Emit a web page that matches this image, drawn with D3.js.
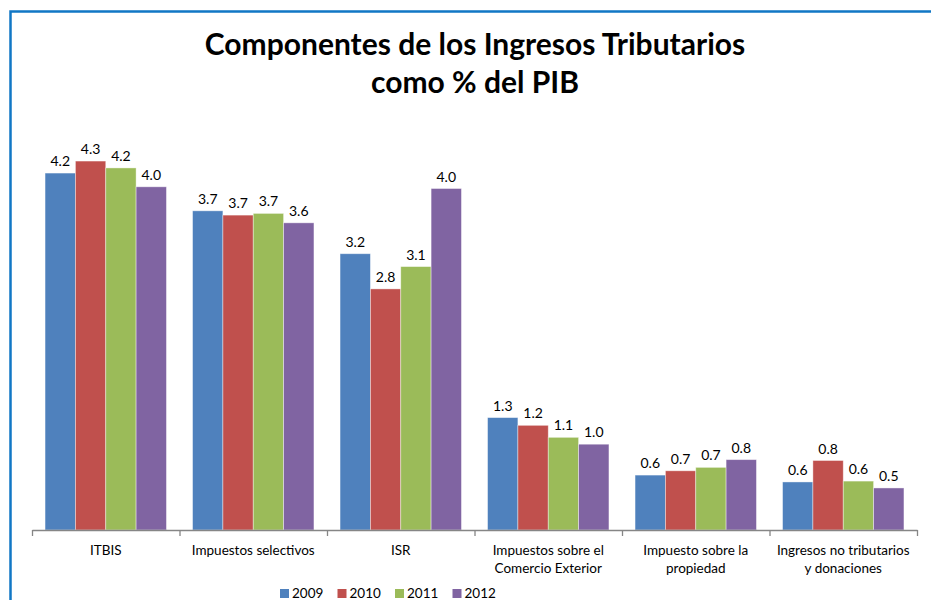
<!DOCTYPE html>
<html>
<head>
<meta charset="utf-8">
<script src="https://cdn.jsdelivr.net/npm/d3@7"></script>
<style>
  body { margin: 0; background: #fff; }
  text { font-family: Lato, "Open Sans", sans-serif; fill: #000; }
</style>
</head>
<body>
<svg id="chart" width="931" height="600"></svg>
<script>
// categories (\n = line break in the axis label)
var categories = ["ITBIS", "Impuestos selectivos", "ISR",
  "Impuestos sobre el\nComercio Exterior", "Impuesto sobre la\npropiedad",
  "Ingresos no tributarios\ny donaciones"];
var years = ["2009", "2010", "2011", "2012"];
var v2009 = [4.16, 3.72, 3.22, 1.31, 0.64, 0.56];
var v2010 = [4.30, 3.67, 2.81, 1.22, 0.69, 0.81];
var v2011 = [4.22, 3.69, 3.07, 1.08, 0.73, 0.57];
var v2012 = [4.00, 3.58, 3.98, 1.00, 0.82, 0.49];
var colors = ["#4F81BD", "#C0504D", "#9BBB59", "#8064A2"];

var series = [v2009, v2010, v2011, v2012];
var svg = d3.select("#chart");

// frame
svg.append("rect")
    .attr("x", 10.5)
    .attr("y", 11.5)
    .attr("width", 940)
    .attr("height", 600)
    .attr("fill", "none")
    .attr("stroke", "#1177C5")
    .attr("stroke-width", 2.5);

// title
var title = svg.append("text")
    .attr("x", 475)
    .attr("y", 55)
    .style("text-anchor", "middle")
    .style("font-size", "30px")
    .style("font-weight", "bold");
title.append("tspan").attr("x", 475).text("Componentes de los Ingresos Tributarios");
title.append("tspan").attr("x", 475).attr("dy", 38).text("como % del PIB");

var left = 32, right = 917, base = 530;

var x0 = d3.scaleBand()
    .domain(categories)
    .range([left, right])
    .paddingInner(0.177)
    .paddingOuter(0.0885);

var x1 = d3.scaleBand()
    .domain(years)
    .range([0, x0.bandwidth()]);

var y = d3.scaleLinear()
    .domain([0, 4.5])
    .range([base, base - 4.5 * 85.8]);

var color = d3.scaleOrdinal().domain(years).range(colors);

var rows = [];
categories.forEach(function(c, i) {
  years.forEach(function(yr, j) {
    rows.push({ cat: c, year: yr, value: series[j][i] });
  });
});

var bars = svg.append("g");

bars.selectAll("rect")
  .data(rows)
  .enter()
  .append("rect")
    .attr("x", d => x0(d.cat) + x1(d.year))
    .attr("y", d => y(d.value))
    .attr("width", x1.bandwidth())
    .attr("height", d => base - y(d.value))
    .attr("fill", d => color(d.year))
    .attr("stroke", "rgba(255,255,255,0.5)")
    .attr("stroke-width", 0.8);

bars.selectAll(".val")
  .data(rows)
  .enter()
  .append("text")
    .classed("val", true)
    .attr("x", d => x0(d.cat) + x1(d.year) + x1.bandwidth() / 2)
    .attr("y", d => y(d.value) - 7)
    .style("text-anchor", "middle")
    .style("font-size", "14px")
    .text(d => d3.format(".1f")(d.value));

// axis with ticks on category boundaries
var edges = d3.scaleLinear().domain([0, categories.length]).range([left, right]);
var xAxis = d3.axisBottom(edges)
    .tickValues(d3.range(categories.length + 1))
    .tickFormat("")
    .tickSizeInner(6)
    .tickSizeOuter(0);

var axis = svg.append("g")
    .attr("transform", "translate(0," + base + ")")
    .call(xAxis);
axis.selectAll("path, line").attr("stroke", "#868686").attr("stroke-width", 1.3);

var labels = svg.append("g")
  .selectAll("text")
  .data(categories)
  .enter()
  .append("text")
    .attr("y", 555)
    .style("text-anchor", "middle")
    .style("font-size", "13.5px");

labels.each(function(c) {
  var t = d3.select(this);
  var cx = x0(c) + x0.bandwidth() / 2;
  c.split("\n").forEach(function(line, k) {
    t.append("tspan")
        .attr("x", cx)
        .attr("dy", k === 0 ? 0 : 18)
        .text(line);
  });
});

// legend
var legend = svg.append("g")
  .selectAll("g")
  .data(years)
  .enter()
  .append("g")
    .attr("transform", (d, i) => "translate(" + (280 + i * 57.5) + ",589)");

legend.append("rect")
    .attr("width", 9)
    .attr("height", 9)
    .attr("fill", d => color(d));

legend.append("text")
    .attr("x", 12)
    .attr("y", 9)
    .style("font-size", "13.5px")
    .text(d => d);
</script>
</body>
</html>
